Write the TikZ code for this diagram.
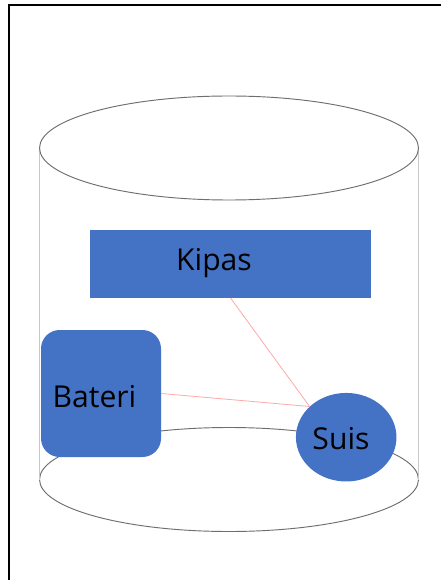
\documentclass[tikz,border=0pt]{standalone}
\usepackage{fontspec}
\setmainfont{Open Sans}
\usetikzlibrary{shapes.geometric}
\definecolor{shapeblue}{HTML}{4472C4}
\definecolor{wirepink}{HTML}{FFA8A8}
\definecolor{rimgray}{HTML}{6E6E6E}
\definecolor{sidegray}{HTML}{C8C8C8}
\tikzset{
  px/.style={x=0.75pt,y=-0.75pt},
  rim/.style={ellipse,draw=rimgray,line width=0.7pt,fill=white,inner sep=0pt,minimum width=284.25pt,minimum height=78pt},
  side/.style={draw=sidegray,line width=1.2pt},
  wire/.style={draw=wirepink,line width=0.6pt},
  part/.style={fill=shapeblue,draw=none,inner sep=0pt},
  tag/.style={inner sep=0pt,font=\fontsize{22.6pt}{25pt}\selectfont,text=black,anchor=center},
}
\begin{document}
\begin{tikzpicture}[px]
\useasboundingbox (0,0) rectangle (441,580);
\fill[white] (0,0) rectangle (441,580);
% outer frame (open at right and bottom)
\coordinate (frameBL) at (9,580);
\coordinate (frameTL) at (9,5.5);
\coordinate (frameTR) at (441,5.5);
\draw[black,line width=1.5pt] (frameBL) -- (frameTL) -- (frameTR);
% cylinder
\node[rim] (bottomrim) at (229,479.5) {};
\draw[side] (39.5,148) -- (39.5,479.5);
\draw[side,line width=0.7pt] (418,148) -- (418,479.5);
\node[rim] (toprim) at (229,148) {};
% parts
\node[part,minimum width=210.75pt,minimum height=51pt] (kipas) at (230.5,263.75) {};
\node[part,rectangle,rounded corners=14pt,minimum width=90pt,minimum height=95.25pt] (bateri) at (101,393.5) {};
\node[part,ellipse,minimum width=75.4pt,minimum height=66.4pt] (suis) at (346.2,437.2) {};
% wires
\draw[wire] (kipas.south) -- (suis.140);
\draw[wire] (bateri.east) -- (suis.140);
% labels
\node[tag] (kipaslabel) at (214,263) {Kipas};
\node[tag] (baterilabel) at (94.5,397) {Bateri};
\node[tag] (suislabel) at (341,438.5) {Suis};
\end{tikzpicture}
\end{document}
